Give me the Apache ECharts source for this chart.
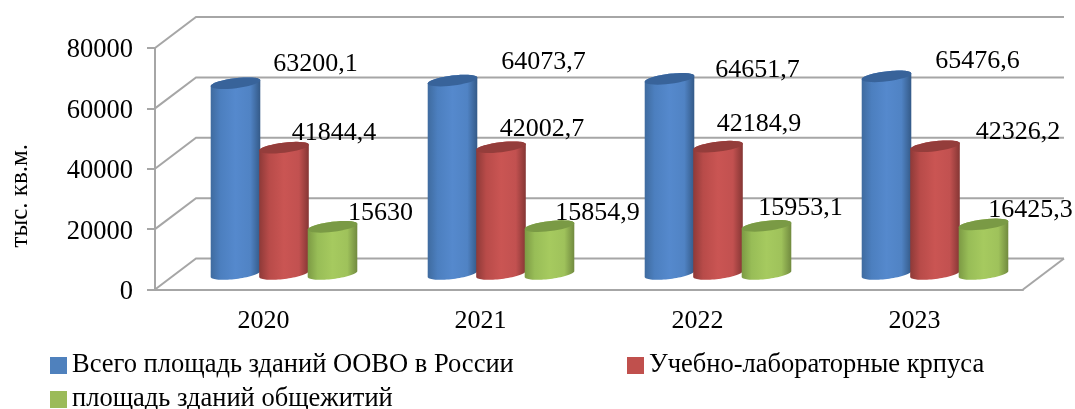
<!DOCTYPE html>
<html lang="ru">
<head>
    <meta charset="UTF-8">
    <title>Площадь зданий</title>
    <script src="https://cdn.jsdelivr.net/npm/echarts@6/dist/echarts.min.js"></script>
    <style>
        html, body { margin: 0; padding: 0; background: #fff; }
    </style>
</head>
<body>
    <div id="main" style="width: 1075px; height: 409px;"></div>

    <script type="text/javascript">
        var years = ['2020', '2021', '2022', '2023'];
        var totalArea = [63200.1, 64073.7, 64651.7, 65476.6];
        var labArea = [41844.4, 42002.7, 42184.9, 42326.2];
        var dormArea = [15630, 15854.9, 15953.1, 16425.3];
        var yTicks = [0, 20000, 40000, 60000, 80000];
        var seriesNames = ['Всего площадь зданий ООВО в России', 'Учебно-лабораторные крпуса', 'площадь зданий общежитий'];

        var font = 'Liberation Serif';
        var wallColor = '#a6a6a6';
        var depthX = 41, depthY = 31;   // смещение задней стенки

        // сдвиг подписей относительно верха столбика
        var labelShift = [
            [[80, -19], [50, -15], [48, -14]],
            [[91, -18], [41, -18], [48, -13]],
            [[88, -9], [41, -22], [34, -18]],
            [[91, -15], [83, -14], [47, -14]]
        ];

        function ellipsePoints(cx, cy, rx, ry, from, to) {
            var rot = -7 * Math.PI / 180;
            var pts = [];
            for (var i = 0; i <= 36; i++) {
                var a = from + (to - from) * i / 36;
                var ex = rx * Math.cos(a), ey = ry * Math.sin(a);
                pts.push([cx + ex * Math.cos(rot) - ey * Math.sin(rot), cy + ex * Math.sin(rot) + ey * Math.cos(rot)]);
            }
            return pts;
        }

        function cylinderSeries(idx, values, stops, topColor) {
            return {
                name: seriesNames[idx],
                type: 'custom',
                coordinateSystem: 'cartesian2d',
                clip: false,
                z: 3,
                itemStyle: { color: ['#4f81bd', '#c0504d', '#9bbb59'][idx] },
                encode: { x: 0, y: 1 },
                data: values.map(function (v, i) { return [i, v]; }),
                renderItem: function (params, api) {
                    var band = api.size([1, 0])[0];
                    var step = band * 0.2235;
                    var rx = step * 0.515;
                    var top = api.coord([api.value(0), api.value(1)]);
                    var base = api.coord([api.value(0), 0]);
                    var cx = top[0] + depthX / 2 + (idx - 1) * step;
                    var topY = top[1] - depthY / 2;
                    var baseY = base[1] - depthY / 2;
                    // тело: нижняя половина эллипса + верхняя половина
                    var body = ellipsePoints(cx, baseY, rx, 5, 0, Math.PI)
                        .concat(ellipsePoints(cx, topY, rx, 5, Math.PI, 2 * Math.PI));
                    var shift = labelShift[api.value(0)][idx];
                    return {
                        type: 'group',
                        children: [
                            {
                                type: 'polygon',
                                shape: { points: body },
                                style: {
                                    fill: new echarts.graphic.LinearGradient(0, 0, 1, 0, stops)
                                }
                            },
                            {
                                type: 'polygon',
                                shape: { points: ellipsePoints(cx, topY, rx, 5, 0, 2 * Math.PI) },
                                style: { fill: topColor }
                            },
                            {
                                type: 'text',
                                z2: 50,
                                x: cx + shift[0],
                                y: topY + shift[1],
                                style: {
                                    text: String(api.value(1)).replace('.', ','),
                                    font: '26px "' + font + '"',
                                    fill: '#000',
                                    align: 'center',
                                    verticalAlign: 'middle'
                                }
                            }
                        ]
                    };
                }
            };
        }

        // стенки: диагонали от оси и линии сетки сзади
        var wallSeries = {
            type: 'custom',
            coordinateSystem: 'cartesian2d',
            clip: false,
            silent: true,
            z: 1,
            data: [[0, 0]],
            renderItem: function (params, api) {
                var children = [];
                var style = { stroke: wallColor, lineWidth: 2, fill: 'none' };
                yTicks.forEach(function (t) {
                    var p = api.coord([0, t]);
                    var x0 = params.coordSys.x, x1 = params.coordSys.x + params.coordSys.width;
                    children.push({
                        type: 'polyline',
                        shape: { points: [[x0, p[1]], [x0 + depthX, p[1] - depthY], [x1 + depthX, p[1] - depthY]] },
                        style: style
                    });
                    if (t === 0) {
                        children.push({
                            type: 'line',
                            shape: { x1: x1, y1: p[1], x2: x1 + depthX, y2: p[1] - depthY },
                            style: style
                        });
                    }
                });
                return { type: 'group', children: children };
            }
        };

        var legendBase = {
            icon: 'rect',
            itemWidth: 17,
            itemHeight: 17,
            textStyle: { fontFamily: font, fontSize: 26.5, color: '#000' }
        };

        var myChart = echarts.init(document.getElementById('main'));
        var option = {
            animation: false,
            backgroundColor: '#fff',
            grid: { left: 155, top: 48, width: 868, height: 241.5 },
            legend: [
                Object.assign({ data: [seriesNames[0]], left: 45, top: 347 }, legendBase),
                Object.assign({ data: [seriesNames[1]], left: 622, top: 347 }, legendBase),
                Object.assign({ data: [seriesNames[2]], left: 45, top: 381 }, legendBase)
            ],
            xAxis: {
                type: 'category',
                data: years,
                axisLine: { lineStyle: { color: wallColor, width: 2 } },
                axisTick: { length: 8, lineStyle: { color: wallColor, width: 2 } },
                axisLabel: { fontFamily: font, fontSize: 26, color: '#000', margin: 19 }
            },
            yAxis: {
                type: 'value',
                min: 0,
                max: 80000,
                interval: 20000,
                name: 'тыс. кв.м.',
                nameLocation: 'middle',
                nameGap: 122,
                nameRotate: 90,
                nameTextStyle: { fontFamily: font, fontSize: 25, color: '#000', padding: [0, 54, 0, 0] },
                splitLine: { show: false },
                axisLine: { show: true, lineStyle: { color: wallColor, width: 2 } },
                axisTick: { show: true, length: 8, lineStyle: { color: wallColor, width: 2 } },
                axisLabel: {
                    fontFamily: font, fontSize: 26.5, color: '#000', margin: 22,
                    verticalAlign: 'top', padding: [-11, 0, 0, 0],
                    formatter: function (v) { return String(v); }
                }
            },
            series: [
                wallSeries,
                cylinderSeries(0, totalArea, [
                    { offset: 0, color: '#3f6b9f' }, { offset: 0.2, color: '#4c7fbf' },
                    { offset: 0.5, color: '#5589cd' }, { offset: 0.8, color: '#5083c4' },
                    { offset: 1, color: '#345a88' }
                ], '#38639a'),
                cylinderSeries(1, labArea, [
                    { offset: 0, color: '#8e3a38' }, { offset: 0.2, color: '#b84b49' },
                    { offset: 0.5, color: '#ca5553' }, { offset: 0.8, color: '#c25150' },
                    { offset: 1, color: '#853634' }
                ], '#943d3b'),
                cylinderSeries(2, dormArea, [
                    { offset: 0, color: '#7c9a44' }, { offset: 0.2, color: '#98bd57' },
                    { offset: 0.5, color: '#a6ca5f' }, { offset: 0.8, color: '#9fc25b' },
                    { offset: 1, color: '#718a3f' }
                ], '#7a9a45')
            ]
        };
        myChart.setOption(option);
    </script>
</body>
</html>
